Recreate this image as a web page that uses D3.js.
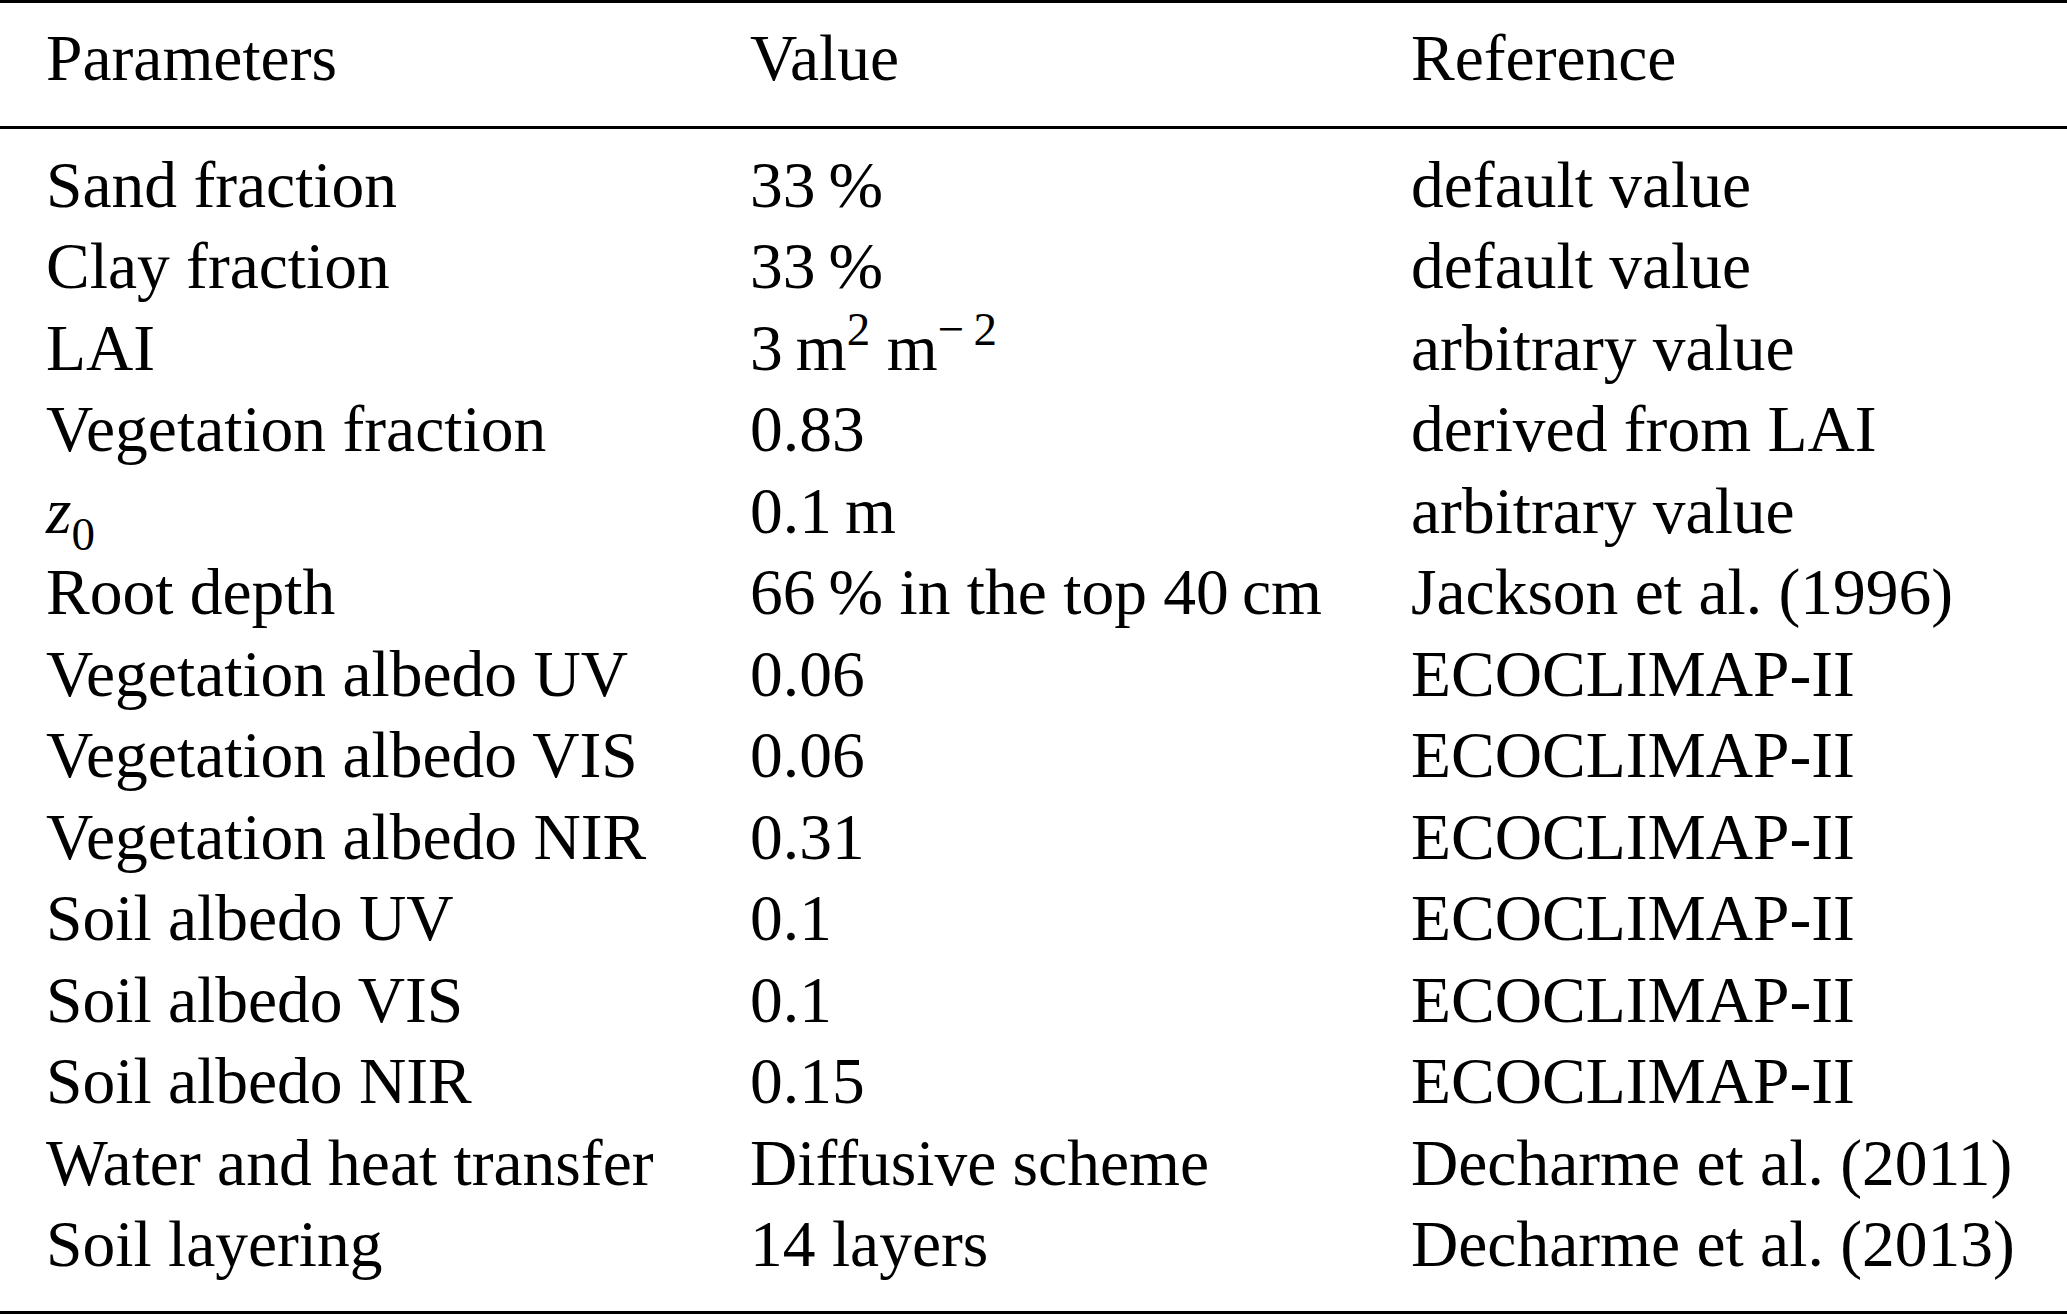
<!DOCTYPE html>
<html>
<head>
<meta charset="utf-8">
<script src="https://cdn.jsdelivr.net/npm/d3@7"></script>
<style>
  html, body { margin: 0; padding: 0; background: #fff; }
  svg { display: block; }
</style>
</head>
<body>
<div id="chart"></div>
<script>
// table content, markup: $..$ italic, ^{..} superscript, _{..} subscript
var headers = ["Parameters", "Value", "Reference"];

var params = [
  "Sand fraction",
  "Clay fraction",
  "LAI",
  "Vegetation fraction",
  "$z$_{0}",
  "Root depth",
  "Vegetation albedo UV",
  "Vegetation albedo VIS",
  "Vegetation albedo NIR",
  "Soil albedo UV",
  "Soil albedo VIS",
  "Soil albedo NIR",
  "Water and heat transfer",
  "Soil layering"
];

var values = [
  "33\u2009%",
  "33\u2009%",
  "3\u2009m^{2} m^{\u2212\u20092}",
  "0.83",
  "0.1\u2009m",
  "66\u2009% in the top 40\u2009cm",
  "0.06",
  "0.06",
  "0.31",
  "0.1",
  "0.1",
  "0.15",
  "Diffusive scheme",
  "14 layers"
];

var refs = [
  "default value",
  "default value",
  "arbitrary value",
  "derived from LAI",
  "arbitrary value",
  "Jackson et al. (1996)",
  "ECOCLIMAP-II",
  "ECOCLIMAP-II",
  "ECOCLIMAP-II",
  "ECOCLIMAP-II",
  "ECOCLIMAP-II",
  "ECOCLIMAP-II",
  "Decharme et al. (2011)",
  "Decharme et al. (2013)"
];

var width = 2067,
    height = 1315,
    fontSize = 65.5,
    smallSize = 47,
    fontFace = '"Liberation Serif", "Times New Roman", Times, serif';

var svg = d3.select("#chart").append("svg")
    .attr("width", width)
    .attr("height", height);

svg.append("rect")
    .attr("width", width)
    .attr("height", height)
    .attr("fill", "#fff");

var cols = ["param", "value", "ref"];
var x = d3.scaleOrdinal()
    .domain(cols)
    .range([46, 750, 1411]);

var y = d3.scalePoint()
    .domain(d3.range(params.length))
    .range([207, 1266]);

var headerY = 80;

function addRich(sel, str) {
  // split markup into tspans, shift back to baseline on the next piece
  var parts = str.split(/(\^\{[^}]*\}|_\{[^}]*\}|\$[^$]*\$)/).filter(function(p) { return p !== ""; });
  var back = 0;
  parts.forEach(function(p) {
    var t;
    if (p[0] === "^") {
      t = sel.append("tspan").attr("dy", back - 25).style("font-size", smallSize + "px").text(p.slice(2, -1));
      back = 25;
    } else if (p[0] === "_") {
      t = sel.append("tspan").attr("dy", back + 17).style("font-size", smallSize + "px").text(p.slice(2, -1));
      back = -17;
    } else {
      t = sel.append("tspan").attr("dy", back);
      if (p[0] === "$") {
        t.style("font-style", "italic").text(p.slice(1, -1));
      } else {
        t.text(p);
      }
      back = 0;
    }
  });
}

var g = svg.append("g")
    .style("font-family", fontFace)
    .style("font-size", fontSize + "px")
    .attr("fill", "#000");

// header
g.selectAll(".header")
  .data(headers)
  .enter().append("text")
    .attr("class", "header")
    .attr("x", function(d, i) { return x(cols[i]); })
    .attr("y", headerY)
    .text(function(d) { return d; });

// body rows
var rows = d3.range(params.length).map(function(i) {
  return { i: i, cells: [params[i], values[i], refs[i]] };
});

var rowG = g.selectAll(".row")
  .data(rows)
  .enter().append("g")
    .attr("class", "row");

rowG.selectAll("text")
  .data(function(d) { return d.cells.map(function(c, j) { return { i: d.i, j: j, t: c }; }); })
  .enter().append("text")
    .attr("x", function(d) { return x(cols[d.j]); })
    .attr("y", function(d) { return y(d.i); })
    .each(function(d) { addRich(d3.select(this), d.t); });

// booktabs rules
var rules = [
  { y: 1.5, w: 3 },
  { y: 127.5, w: 3 },
  { y: 1312.5, w: 3 }
];

svg.selectAll(".rule")
  .data(rules)
  .enter().append("line")
    .attr("class", "rule")
    .attr("x1", 0)
    .attr("x2", width)
    .attr("y1", function(d) { return d.y; })
    .attr("y2", function(d) { return d.y; })
    .attr("stroke", "#000")
    .attr("stroke-width", function(d) { return d.w; });
</script>
</body>
</html>
